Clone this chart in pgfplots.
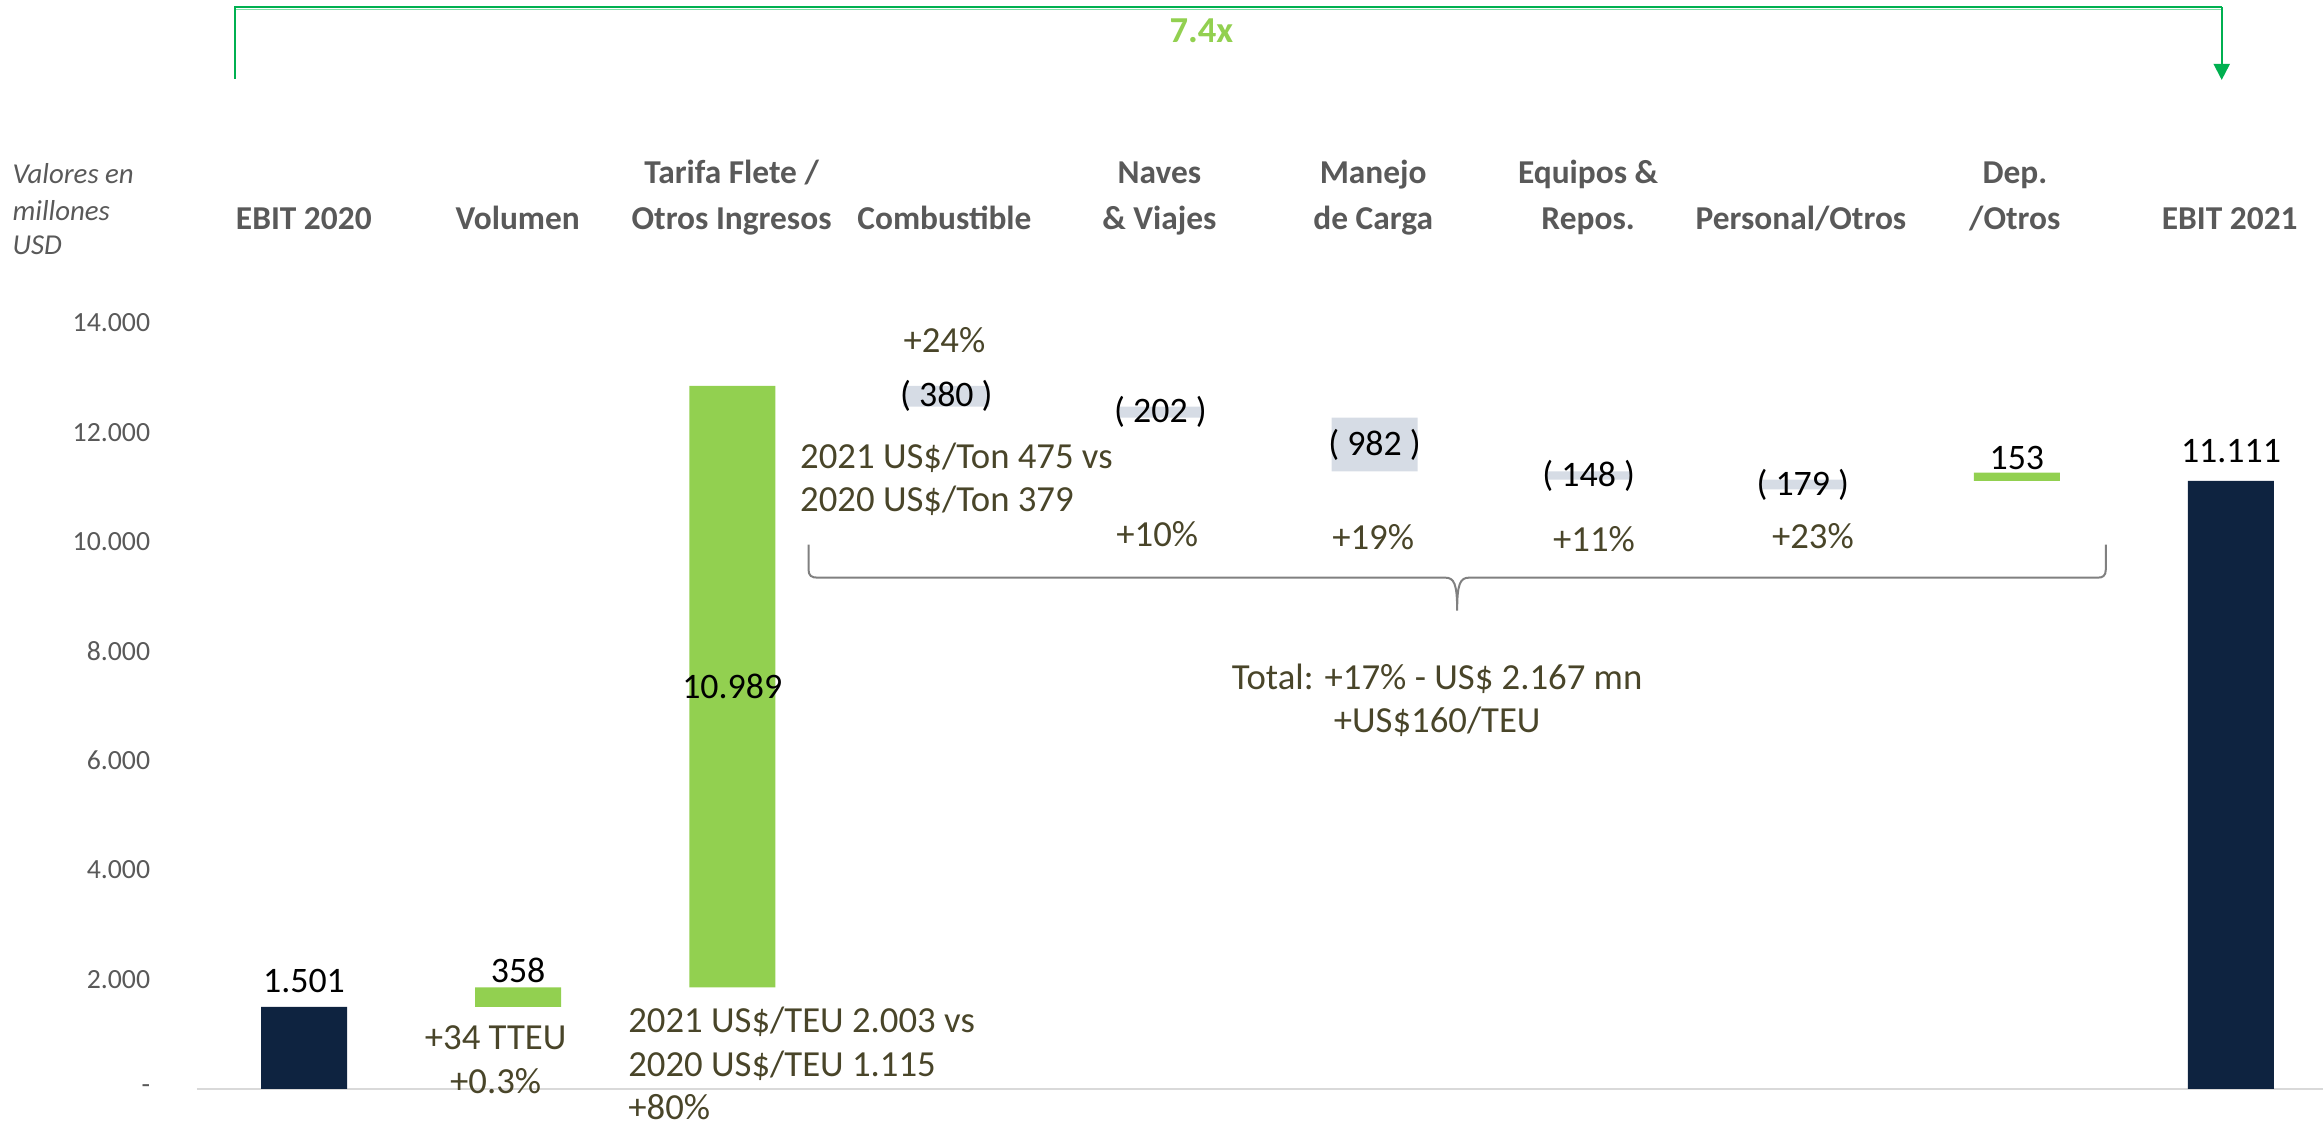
\documentclass[border=0pt]{standalone}
\usepackage{fontspec}
\setmainfont{Carlito}
\usepackage{pgfplots}
\pgfplotsset{compat=1.18}
\usetikzlibrary{arrows.meta}
\definecolor{navy}{HTML}{0E2340}
\definecolor{lgreen}{HTML}{92D050}
\definecolor{costc}{HTML}{D6DCE5}
\definecolor{olive}{HTML}{494529}
\definecolor{greytxt}{HTML}{595959}
\definecolor{dgreen}{HTML}{00B050}
\definecolor{pgreen}{HTML}{80E0A8}
\newcommand{\fs}[1]{\fontsize{#1pt}{#1pt}\selectfont}
\begin{document}
\begin{tikzpicture}
\begin{axis}[
  scale only axis, width=21.26cm, height=10.89cm,
  xmin=-0.5, xmax=9.43, ymin=0, ymax=19898,
  clip=false,
  ybar stacked, bar width=0.86cm,
  axis x line=bottom, axis y line=left,
  x axis line style={draw=black!15, line width=0.02cm, -},
  y axis line style={draw=none},
  xtick=\empty,
  ytick={0,2000,4000,6000,8000,10000,12000,14000},
  yticklabels={-,2.000,4.000,6.000,8.000,10.000,12.000,14.000},
  tick style={draw=none},
  yticklabel style={font=\fs{7.9}, text=greytxt, xshift=-0.27cm},
  /pgf/number format/assume math mode=true,
]
% invisible base
\addplot[fill=none, draw=none] coordinates {(0,0) (1,1501) (2,1859) (3,12468) (4,12266) (5,11284) (6,11136) (7,10957) (8,11111) (9,0)};
% totals
\addplot[fill=navy, draw=none] coordinates {(0,1501) (1,0) (2,0) (3,0) (4,0) (5,0) (6,0) (7,0) (8,0) (9,11111)};
% increases
\addplot[fill=lgreen, draw=none] coordinates {(0,0) (1,358) (2,10989) (3,0) (4,0) (5,0) (6,0) (7,0) (8,153) (9,0)};
% decreases
\addplot[fill=costc, draw=none] coordinates {(0,0) (1,0) (2,0) (3,380) (4,202) (5,982) (6,148) (7,179) (8,0) (9,0)};

\coordinate (L0) at (axis cs:0,1501);
\coordinate (L1) at (axis cs:1,1859);
\coordinate (L2) at (axis cs:2,7353);
\coordinate (L3) at (axis cs:3,12658);
\coordinate (L4) at (axis cs:4,12367);
\coordinate (L5) at (axis cs:5,11775);
\coordinate (L6) at (axis cs:6,11210);
\coordinate (L7) at (axis cs:7,11046);
\coordinate (L8) at (axis cs:8,11264);
\coordinate (L9) at (axis cs:9,11111);
\coordinate (O) at (axis cs:-1.4201,19898);
\coordinate (BR) at (axis cs:9.43,-676);
\end{axis}

\node[font=\fs{10.2}, anchor=base, inner sep=0pt, yshift=0.14cm] at (L0) {1.501};
\node[font=\fs{10.2}, anchor=base, inner sep=0pt, yshift=0.05cm] at (L1) {358};
\node[font=\fs{10.2}, inner sep=0pt] at (L2) {10.989};
\node[font=\fs{10.2}, inner sep=0pt] at (L3) {( 380 )};
\node[font=\fs{10.2}, inner sep=0pt] at (L4) {( 202 )};
\node[font=\fs{10.2}, inner sep=0pt] at (L5) {( 982 )};
\node[font=\fs{10.2}, inner sep=0pt] at (L6) {( 148 )};
\node[font=\fs{10.2}, inner sep=0pt] at (L7) {( 179 )};
\node[font=\fs{10.2}, anchor=base, inner sep=0pt, yshift=0.03cm] at (L8) {153};
\node[font=\fs{10.2}, anchor=base, inner sep=0pt, yshift=0.18cm] at (L9) {11.111};

\begin{scope}[shift={(O)}, x=0.01cm, y=-0.01cm,
  cat/.style={font=\bfseries\fs{9.5}, text=greytxt, anchor=base, inner sep=0pt},
  ann/.style={font=\fs{10.45}, text=olive, anchor=base, inner sep=0pt},
  annl/.style={font=\fs{10.45}, text=olive, anchor=base west, inner sep=0pt}]
% top bracket
\draw[pgreen, line width=0.015cm] (236,9.5) -- (2222,9.5);
\draw[dgreen, line width=0.02cm] (235,79) -- (235,7) -- (2223,7);
\draw[dgreen, line width=0.02cm, -{Triangle[width=0.16cm,length=0.16cm]}] (2223,7) -- (2223,80);
\node[font=\bfseries\fs{10.4}, text=lgreen, anchor=base, inner sep=0pt] at (1202,43) {7.4x};
% y axis title
\node[font=\itshape\fs{8.2}, text=greytxt, anchor=base west, inner sep=0pt] at (12,184) {Valores en};
\node[font=\itshape\fs{8.2}, text=greytxt, anchor=base west, inner sep=0pt] at (12,221) {millones};
\node[font=\itshape\fs{8.2}, text=greytxt, anchor=base west, inner sep=0pt] at (12,255) {USD};
% categories
\node[cat] at (304,230) {EBIT 2020};
\node[cat] at (518,230) {Volumen};
\node[cat] at (732,184) {Tarifa Flete /};
\node[cat] at (732,230) {Otros Ingresos};
\node[cat] at (945,230) {Combustible};
\node[cat] at (1160,184) {Naves};
\node[cat] at (1160,230) {\& Viajes};
\node[cat] at (1374,184) {Manejo};
\node[cat] at (1374,230) {de Carga};
\node[cat] at (1589,184) {Equipos \&};
\node[cat] at (1589,230) {Repos.};
\node[cat] at (1802,230) {Personal/Otros};
\node[cat] at (2016,184) {Dep.};
\node[cat] at (2016,230) {/Otros};
\node[cat] at (2231,230) {EBIT 2021};
% annotations
\node[ann] at (945,353) {+24\%};
\node[annl] at (800,469) {2021 US\$/Ton 475 vs};
\node[annl] at (800,512) {2020 US\$/Ton 379};
\node[ann] at (1158,547) {+10\%};
\node[ann] at (1374,550) {+19\%};
\node[ann] at (1595,552) {+11\%};
\node[ann] at (1814,549) {+23\%};
\node[ann] at (1438,690) {Total: +17\% - US\$ 2.167 mn};
\node[ann] at (1438,733) {+US\$160/TEU};
\node[ann] at (496,1050) {+34 TTEU};
\node[ann] at (496,1094) {+0.3\%};
\node[annl] at (628,1033) {2021 US\$/TEU 2.003 vs};
\node[annl] at (628,1077) {2020 US\$/TEU 1.115};
\node[annl] at (628,1120) {+80\%};
% brace
\draw[black!50, line width=0.02cm]
  (809,545) -- (809,570) .. controls (809,576) and (812,578) .. (818,578)
  -- (1446,578) .. controls (1455,578) and (1458,584) .. (1458,611)
  .. controls (1458,584) and (1461,578) .. (1470,578)
  -- (2099,578) .. controls (2104,578) and (2107,576) .. (2107,570) -- (2107,545);
\end{scope}
\pgfresetboundingbox
\path[use as bounding box] (O) rectangle (BR);
\end{tikzpicture}
\end{document}
